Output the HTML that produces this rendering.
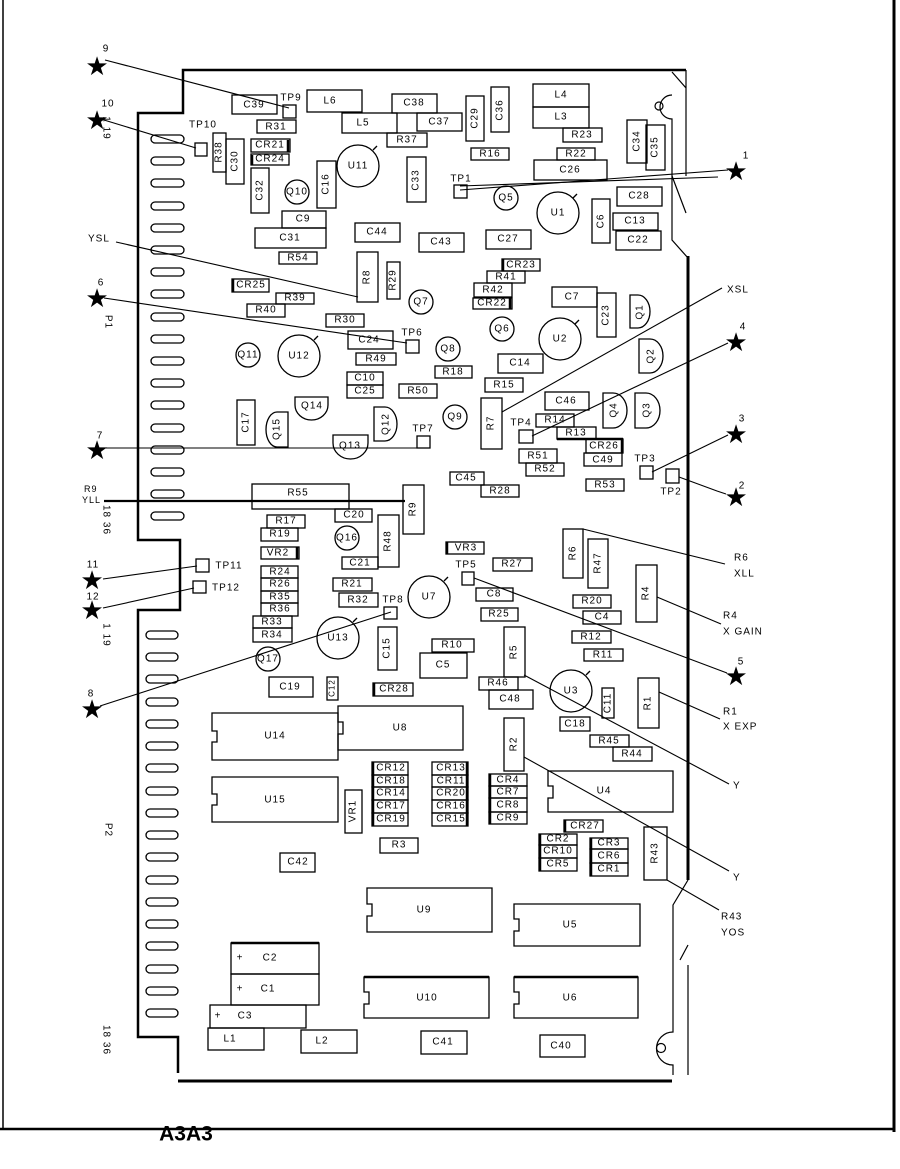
<!DOCTYPE html>
<html><head><meta charset="utf-8"><style>
html,body{margin:0;padding:0;background:#fff}
svg{display:block}
text{font-family:"Liberation Sans",sans-serif;font-size:10px;letter-spacing:1px;fill:#000;text-anchor:middle;dominant-baseline:central}
.b rect,.b circle,.b path{fill:none;stroke:#000;stroke-width:1.3}
.l line,.l polyline{stroke:#000;stroke-width:1.1;fill:none}
</style></head><body>
<svg width="900" height="1169" viewBox="0 0 900 1169" xmlns="http://www.w3.org/2000/svg">
<!-- frame -->
<line x1="3" y1="0" x2="3" y2="1130" stroke="#000" stroke-width="1.5"/>
<line x1="894" y1="0" x2="894" y2="1132" stroke="#000" stroke-width="3"/>
<line x1="0" y1="1129" x2="895" y2="1129" stroke="#000" stroke-width="2.5"/>
<text x="186" y="1134" style="font-size:21px;font-weight:bold;letter-spacing:0">A3A3</text>

<!-- board outline -->
<g fill="none" stroke="#000">
<polyline stroke-width="2.5" points="686,70 183,70 183,113 138,113 138,540 180,540 180,610 138,610 138,1037 178,1037 178,1073"/>
<line x1="178" y1="1081" x2="672" y2="1081" stroke-width="3"/>
<path stroke-width="1.2" d="M672,72 L686,88 L686,176 M686,70 L686,90"/>
<path stroke-width="1.2" d="M672,95 A12,12 0 0,0 672,119 L672,240 L688,258"/>
<line x1="688" y1="256" x2="688" y2="880" stroke-width="3"/>
<path stroke-width="1.2" d="M672,176 L686,213 M688,880 L673,905 L673,1032 A16,16 0 0,0 673,1065 L673,1075 M688,965 L688,1075 M680,960 L688,945"/>
<circle cx="659" cy="106" r="4" stroke-width="1.2"/>
<circle cx="661" cy="1048" r="4.5" stroke-width="1.2"/>
</g>

<!-- connector slots -->
<g fill="none" stroke="#000" stroke-width="1.3" id="slots">
<rect x="151" y="135" width="33" height="8" rx="4"/><rect x="151" y="157" width="33" height="8" rx="4"/><rect x="151" y="179" width="33" height="8" rx="4"/><rect x="151" y="202" width="33" height="8" rx="4"/><rect x="151" y="224" width="33" height="8" rx="4"/><rect x="151" y="246" width="33" height="8" rx="4"/><rect x="151" y="268" width="33" height="8" rx="4"/><rect x="151" y="290" width="33" height="8" rx="4"/><rect x="151" y="313" width="33" height="8" rx="4"/><rect x="151" y="335" width="33" height="8" rx="4"/><rect x="151" y="357" width="33" height="8" rx="4"/><rect x="151" y="379" width="33" height="8" rx="4"/><rect x="151" y="401" width="33" height="8" rx="4"/><rect x="151" y="424" width="33" height="8" rx="4"/><rect x="151" y="446" width="33" height="8" rx="4"/><rect x="151" y="468" width="33" height="8" rx="4"/><rect x="151" y="490" width="33" height="8" rx="4"/><rect x="151" y="512" width="33" height="8" rx="4"/>
<rect x="146" y="631" width="32" height="8" rx="4"/><rect x="146" y="653" width="32" height="8" rx="4"/><rect x="146" y="675" width="32" height="8" rx="4"/><rect x="146" y="698" width="32" height="8" rx="4"/><rect x="146" y="720" width="32" height="8" rx="4"/><rect x="146" y="742" width="32" height="8" rx="4"/><rect x="146" y="764" width="32" height="8" rx="4"/><rect x="146" y="787" width="32" height="8" rx="4"/><rect x="146" y="809" width="32" height="8" rx="4"/><rect x="146" y="831" width="32" height="8" rx="4"/><rect x="146" y="853" width="32" height="8" rx="4"/><rect x="146" y="876" width="32" height="8" rx="4"/><rect x="146" y="898" width="32" height="8" rx="4"/><rect x="146" y="920" width="32" height="8" rx="4"/><rect x="146" y="942" width="32" height="8" rx="4"/><rect x="146" y="965" width="32" height="8" rx="4"/><rect x="146" y="987" width="32" height="8" rx="4"/><rect x="146" y="1009" width="32" height="8" rx="4"/>
</g>

<!-- horizontal boxes -->
<g class="b">
<rect x="232" y="95" width="45" height="19"/><text x="254" y="105">C39</text>
<rect x="307" y="90" width="55" height="22"/><text x="330" y="101">L6</text>
<rect x="257" y="120" width="39" height="13"/><text x="276" y="127">R31</text>
<rect x="342" y="113" width="55" height="20"/><text x="363" y="123">L5</text>
<rect x="392" y="94" width="45" height="19"/><text x="414" y="103">C38</text>
<rect x="417" y="113" width="45" height="18"/><text x="439" y="122">C37</text>
<rect x="387" y="133" width="40" height="14"/><text x="407" y="140">R37</text>
<rect x="533" y="84" width="56" height="23"/><text x="561" y="95">L4</text>
<rect x="533" y="107" width="56" height="21"/><text x="561" y="117">L3</text>
<rect x="563" y="128" width="39" height="14"/><text x="582" y="135">R23</text>
<rect x="471" y="148" width="38" height="12"/><text x="490" y="154">R16</text>
<rect x="557" y="148" width="38" height="12"/><text x="576" y="154">R22</text>
<rect x="534" y="160" width="73" height="20"/><text x="570" y="170">C26</text>
<rect x="617" y="187" width="45" height="19"/><text x="639" y="196">C28</text>
<rect x="613" y="213" width="45" height="17"/><text x="635" y="221">C13</text>
<rect x="616" y="231" width="45" height="19"/><text x="638" y="240">C22</text>
<rect x="251" y="139" width="39" height="13"/><text x="270" y="145">CR21</text>
<rect x="251" y="154" width="38" height="11"/><text x="270" y="159">CR24</text>
<rect x="282" y="211" width="44" height="17"/><text x="303" y="219">C9</text>
<rect x="255" y="228" width="71" height="20"/><text x="290" y="238">C31</text>
<rect x="279" y="252" width="38" height="12"/><text x="298" y="258">R54</text>
<rect x="355" y="223" width="45" height="19"/><text x="377" y="232">C44</text>
<rect x="419" y="233" width="45" height="19"/><text x="441" y="242">C43</text>
<rect x="486" y="230" width="45" height="19"/><text x="508" y="239">C27</text>
<rect x="502" y="259" width="38" height="12"/><text x="521" y="265">CR23</text>
<rect x="487" y="271" width="38" height="12"/><text x="506" y="277">R41</text>
<rect x="474" y="283" width="38" height="14"/><text x="493" y="290">R42</text>
<rect x="473" y="298" width="39" height="11"/><text x="492" y="303">CR22</text>
<rect x="552" y="287" width="45" height="20"/><text x="572" y="297">C7</text>
<rect x="232" y="279" width="37" height="13"/><text x="251" y="285">CR25</text>
<rect x="276" y="293" width="38" height="11"/><text x="295" y="298">R39</text>
<rect x="247" y="304" width="38" height="13"/><text x="266" y="310">R40</text>
<rect x="326" y="314" width="38" height="13"/><text x="345" y="320">R30</text>
<rect x="348" y="331" width="45" height="18"/><text x="369" y="340">C24</text>
<rect x="356" y="353" width="40" height="12"/><text x="376" y="359">R49</text>
<rect x="498" y="354" width="45" height="19"/><text x="520" y="363">C14</text>
<rect x="435" y="366" width="37" height="12"/><text x="453" y="372">R18</text>
<rect x="347" y="372" width="36" height="13"/><text x="365" y="378">C10</text>
<rect x="347" y="385" width="36" height="13"/><text x="365" y="391">C25</text>
<rect x="399" y="384" width="38" height="14"/><text x="418" y="391">R50</text>
<rect x="485" y="378" width="38" height="14"/><text x="504" y="385">R15</text>
<rect x="545" y="392" width="44" height="18"/><text x="566" y="401">C46</text>
<rect x="536" y="414" width="38" height="13"/><text x="555" y="420">R14</text>
<rect x="557" y="427" width="39" height="12"/><text x="576" y="433">R13</text>
<rect x="586" y="439" width="37" height="14"/><text x="604" y="446">CR26</text>
<rect x="584" y="453" width="38" height="13"/><text x="603" y="460">C49</text>
<rect x="519" y="449" width="38" height="14"/><text x="538" y="456">R51</text>
<rect x="526" y="463" width="38" height="13"/><text x="545" y="469">R52</text>
<rect x="586" y="479" width="38" height="12"/><text x="605" y="485">R53</text>
<rect x="450" y="472" width="34" height="13"/><text x="466" y="478">C45</text>
<rect x="481" y="485" width="38" height="12"/><text x="500" y="491">R28</text>
<rect x="252" y="484" width="97" height="25" stroke-width="2"/><text x="298" y="493">R55</text>
<rect x="267" y="515" width="38" height="13"/><text x="286" y="521">R17</text>
<rect x="261" y="528" width="37" height="13"/><text x="280" y="534">R19</text>
<rect x="335" y="509" width="37" height="13"/><text x="354" y="515">C20</text>
<rect x="261" y="547" width="38" height="12"/><text x="278" y="553">VR2</text>
<rect x="342" y="557" width="36" height="12"/><text x="360" y="563">C21</text>
<rect x="261" y="566" width="37" height="12"/><text x="280" y="572">R24</text>
<rect x="261" y="578" width="37" height="13"/><text x="280" y="584">R26</text>
<rect x="261" y="591" width="37" height="12"/><text x="280" y="597">R35</text>
<rect x="261" y="603" width="37" height="13"/><text x="280" y="609">R36</text>
<rect x="253" y="616" width="39" height="12"/><text x="272" y="622">R33</text>
<rect x="253" y="628" width="39" height="14"/><text x="272" y="635">R34</text>
<rect x="333" y="578" width="39" height="13"/><text x="352" y="584">R21</text>
<rect x="339" y="593" width="39" height="14"/><text x="358" y="600">R32</text>
<rect x="446" y="542" width="38" height="12"/><text x="466" y="548">VR3</text>
<rect x="493" y="558" width="39" height="13"/><text x="512" y="564">R27</text>
<rect x="476" y="588" width="37" height="13"/><text x="494" y="594">C8</text>
<rect x="481" y="608" width="37" height="13"/><text x="499" y="614">R25</text>
<rect x="573" y="595" width="38" height="13"/><text x="592" y="601">R20</text>
<rect x="583" y="611" width="38" height="13"/><text x="602" y="617">C4</text>
<rect x="572" y="631" width="39" height="12"/><text x="591" y="637">R12</text>
<rect x="584" y="649" width="39" height="12"/><text x="603" y="655">R11</text>
<rect x="432" y="639" width="42" height="13"/><text x="452" y="645">R10</text>
<rect x="420" y="653" width="47" height="25"/><text x="443" y="665">C5</text>
<rect x="479" y="677" width="39" height="13"/><text x="498" y="683">R46</text>
<rect x="489" y="690" width="44" height="19"/><text x="510" y="699">C48</text>
<rect x="560" y="717" width="30" height="14"/><text x="575" y="724">C18</text>
<rect x="590" y="735" width="39" height="12"/><text x="609" y="741">R45</text>
<rect x="613" y="747" width="39" height="14"/><text x="632" y="754">R44</text>
<rect x="269" y="677" width="44" height="20"/><text x="290" y="687">C19</text>
<rect x="373" y="683" width="40" height="13"/><text x="394" y="689">CR28</text>
<rect x="489" y="774" width="38" height="12"/><text x="508" y="780">CR4</text>
<rect x="489" y="786" width="38" height="12"/><text x="508" y="792">CR7</text>
<rect x="489" y="798" width="38" height="14"/><text x="508" y="805">CR8</text>
<rect x="489" y="812" width="38" height="12"/><text x="508" y="818">CR9</text>
<rect x="564" y="820" width="39" height="12"/><text x="585" y="826">CR27</text>
<rect x="539" y="834" width="38" height="11"/><text x="558" y="839">CR2</text>
<rect x="539" y="845" width="38" height="13"/><text x="558" y="851">CR10</text>
<rect x="539" y="858" width="38" height="13"/><text x="558" y="864">CR5</text>
<rect x="590" y="838" width="38" height="11"/><text x="609" y="843">CR3</text>
<rect x="590" y="849" width="38" height="14"/><text x="609" y="856">CR6</text>
<rect x="590" y="863" width="38" height="13"/><text x="609" y="869">CR1</text>
<rect x="372" y="762" width="36" height="13"/><text x="391" y="768">CR12</text>
<rect x="372" y="775" width="36" height="12"/><text x="391" y="781">CR18</text>
<rect x="372" y="787" width="36" height="13"/><text x="391" y="793">CR14</text>
<rect x="372" y="800" width="36" height="13"/><text x="391" y="806">CR17</text>
<rect x="372" y="813" width="36" height="13"/><text x="391" y="819">CR19</text>
<rect x="432" y="762" width="36" height="13"/><text x="451" y="768">CR13</text>
<rect x="432" y="775" width="36" height="12"/><text x="451" y="781">CR11</text>
<rect x="432" y="787" width="36" height="13"/><text x="451" y="793">CR20</text>
<rect x="432" y="800" width="36" height="13"/><text x="451" y="806">CR16</text>
<rect x="432" y="813" width="36" height="13"/><text x="451" y="819">CR15</text>
<rect x="380" y="838" width="38" height="15"/><text x="399" y="845">R3</text>
<rect x="280" y="853" width="35" height="19"/><text x="298" y="862">C42</text>
<rect x="231" y="943" width="88" height="31"/><text x="240" y="958">+</text><text x="270" y="958">C2</text>
<rect x="231" y="974" width="88" height="31"/><text x="240" y="989">+</text><text x="268" y="989">C1</text>
<rect x="210" y="1005" width="96" height="23"/><text x="218" y="1016">+</text><text x="245" y="1016">C3</text>
<rect x="208" y="1028" width="56" height="22"/><text x="230" y="1039">L1</text>
<rect x="301" y="1030" width="56" height="23"/><text x="322" y="1041">L2</text>
<rect x="421" y="1031" width="46" height="23"/><text x="443" y="1042">C41</text>
<rect x="540" y="1035" width="45" height="22"/><text x="561" y="1046">C40</text>
</g>
<g stroke="#000" stroke-width="2.5">
<line x1="231" y1="943" x2="319" y2="943"/><line x1="288" y1="140" x2="288" y2="152"/><line x1="252" y1="155" x2="252" y2="165"/>
<line x1="233" y1="279" x2="233" y2="292"/><line x1="503" y1="259" x2="503" y2="271"/><line x1="510" y1="298" x2="510" y2="309"/>
<line x1="297" y1="547" x2="297" y2="559"/><line x1="447" y1="542" x2="447" y2="554"/><line x1="622" y1="439" x2="622" y2="453"/>
<line x1="374" y1="683" x2="374" y2="696"/><line x1="490" y1="774" x2="490" y2="824"/><line x1="565" y1="820" x2="565" y2="832"/>
<line x1="540" y1="834" x2="540" y2="871"/><line x1="591" y1="838" x2="591" y2="876"/><line x1="373" y1="762" x2="373" y2="826"/>
<line x1="467" y1="762" x2="467" y2="826"/><line x1="557" y1="439" x2="623" y2="439"/><line x1="364" y1="977" x2="489" y2="977"/><line x1="514" y1="977" x2="638" y2="977"/>
</g>

<!-- vertical boxes -->
<g class="b">
<rect x="466" y="96" width="18" height="45"/><text transform="translate(475,118) rotate(-90)">C29</text>
<rect x="491" y="87" width="18" height="45"/><text transform="translate(500,110) rotate(-90)">C36</text>
<rect x="627" y="120" width="20" height="43"/><text transform="translate(637,141) rotate(-90)">C34</text>
<rect x="646" y="125" width="19" height="45"/><text transform="translate(655,147) rotate(-90)">C35</text>
<rect x="407" y="157" width="19" height="45"/><text transform="translate(416,180) rotate(-90)">C33</text>
<rect x="592" y="199" width="18" height="44"/><text transform="translate(601,221) rotate(-90)">C6</text>
<rect x="357" y="252" width="21" height="50"/><text transform="translate(367,277) rotate(-90)">R8</text>
<rect x="387" y="262" width="13" height="37"/><text transform="translate(393,280) rotate(-90)">R29</text>
<rect x="597" y="293" width="19" height="44"/><text transform="translate(606,315) rotate(-90)">C23</text>
<rect x="317" y="161" width="19" height="47"/><text transform="translate(326,184) rotate(-90)">C16</text>
<rect x="251" y="168" width="18" height="45"/><text transform="translate(260,190) rotate(-90)">C32</text>
<rect x="213" y="133" width="13" height="39"/><text transform="translate(219,152) rotate(-90)">R38</text>
<rect x="226" y="139" width="18" height="45"/><text transform="translate(235,161) rotate(-90)">C30</text>
<rect x="237" y="400" width="18" height="45"/><text transform="translate(246,422) rotate(-90)">C17</text>
<rect x="481" y="398" width="21" height="51"/><text transform="translate(491,423) rotate(-90)">R7</text>
<rect x="403" y="485" width="21" height="49"/><text transform="translate(413,509) rotate(-90)">R9</text>
<rect x="378" y="515" width="21" height="52"/><text transform="translate(388,541) rotate(-90)">R48</text>
<rect x="563" y="529" width="20" height="49"/><text transform="translate(573,553) rotate(-90)">R6</text>
<rect x="588" y="539" width="20" height="49"/><text transform="translate(598,563) rotate(-90)">R47</text>
<rect x="636" y="565" width="21" height="57"/><text transform="translate(646,593) rotate(-90)">R4</text>
<rect x="504" y="627" width="21" height="50"/><text transform="translate(514,652) rotate(-90)">R5</text>
<rect x="602" y="688" width="12" height="30"/><text transform="translate(608,703) rotate(-90)">C11</text>
<rect x="638" y="678" width="21" height="50"/><text transform="translate(648,703) rotate(-90)">R1</text>
<rect x="504" y="718" width="20" height="53"/><text transform="translate(514,744) rotate(-90)">R2</text>
<rect x="644" y="827" width="23" height="53"/><text transform="translate(655,853) rotate(-90)">R43</text>
<rect x="378" y="627" width="19" height="43"/><text transform="translate(387,648) rotate(-90)">C15</text>
<rect x="327" y="677" width="11" height="23"/><text transform="translate(332,688) rotate(-90)" style="font-size:8px">C12</text>
<rect x="345" y="790" width="17" height="43"/><text transform="translate(353,811) rotate(-90)">VR1</text>
</g>

<!-- ICs -->
<g class="b">
<path d="M212,713 H338 V760 H212 V742 H217 V731 H212 Z"/><text x="275" y="736">U14</text>
<path d="M338,706 H463 V750 H338 V734 H343 V722 H338 Z"/><text x="400" y="728">U8</text>
<path d="M212,777 H338 V822 H212 V805 H217 V794 H212 Z"/><text x="275" y="800">U15</text>
<path d="M548,771 H673 V812 H548 V798 H553 V786 H548 Z"/><text x="604" y="791">U4</text>
<path d="M367,888 H492 V932 H367 V916 H372 V904 H367 Z"/><text x="424" y="910">U9</text>
<path d="M514,904 H640 V946 H514 V931 H519 V919 H514 Z"/><text x="570" y="925">U5</text>
<path d="M364,977 H489 V1018 H364 V1004 H369 V992 H364 Z"/><text x="427" y="998">U10</text>
<path d="M514,977 H638 V1018 H514 V1004 H519 V992 H514 Z"/><text x="570" y="998">U6</text>
</g>

<!-- round parts -->
<g class="b">
<circle cx="358" cy="166" r="21"/><text x="358" y="166">U11</text>
<circle cx="558" cy="213" r="21"/><text x="558" y="213">U1</text>
<circle cx="560" cy="339" r="21"/><text x="560" y="339">U2</text>
<circle cx="299" cy="356" r="21"/><text x="299" y="356">U12</text>
<circle cx="429" cy="597" r="21"/><text x="429" y="597">U7</text>
<circle cx="338" cy="638" r="21"/><text x="338" y="638">U13</text>
<circle cx="571" cy="691" r="21"/><text x="571" y="691">U3</text>
<circle cx="506" cy="198" r="12"/><text x="506" y="198">Q5</text>
<circle cx="297" cy="192" r="12"/><text x="297" y="192">Q10</text>
<circle cx="421" cy="302" r="12"/><text x="421" y="302">Q7</text>
<circle cx="502" cy="329" r="12"/><text x="502" y="329">Q6</text>
<circle cx="448" cy="349" r="12"/><text x="448" y="349">Q8</text>
<circle cx="248" cy="355" r="12"/><text x="248" y="355">Q11</text>
<circle cx="455" cy="417" r="12"/><text x="455" y="417">Q9</text>
<circle cx="347" cy="538" r="12"/><text x="347" y="538">Q16</text>
<circle cx="268" cy="659" r="12"/><text x="268" y="659">Q17</text>
<path d="M630,295 H638 A12,16.5 0 0,1 638,328 H630 Z"/><text transform="translate(640,312) rotate(-90)">Q1</text>
<path d="M639,339 H650 A13,17 0 0,1 650,373 H639 Z"/><text transform="translate(651,356) rotate(-90)">Q2</text>
<path d="M603,393 H613 A14,17.5 0 0,1 613,428 H603 Z"/><text transform="translate(614,410) rotate(-90)">Q4</text>
<path d="M635,393 H646 A14,17.5 0 0,1 646,428 H635 Z"/><text transform="translate(647,410) rotate(-90)">Q3</text>
<path d="M374,407 H385 A12,17 0 0,1 385,441 H374 Z"/><text transform="translate(386,424) rotate(-90)">Q12</text>
<path d="M295,397 H328 V405 A16.5,15 0 0,1 295,405 Z"/><text x="312" y="406">Q14</text>
<path d="M288,412 V447 H277 A11,17.5 0 0,1 277,412 Z"/><text transform="translate(277,429) rotate(-90)">Q15</text>
<path d="M333,435 H368 V443 A17.5,16 0 0,1 333,443 Z"/><text x="350" y="446">Q13</text>
</g>
<g stroke="#000" stroke-width="1.3">
<line x1="373" y1="150" x2="377" y2="146"/><line x1="573" y1="198" x2="577" y2="194"/><line x1="575" y1="324" x2="579" y2="320"/>
<line x1="314" y1="340" x2="318" y2="336"/><line x1="444" y1="581" x2="448" y2="577"/><line x1="353" y1="622" x2="357" y2="618"/><line x1="586" y1="675" x2="590" y2="671"/>
</g>

<!-- test points -->
<g class="b">
<rect x="283" y="105" width="13" height="13"/><rect x="195" y="143" width="12" height="13"/>
<rect x="454" y="185" width="13" height="13"/><rect x="406" y="340" width="13" height="13"/>
<rect x="417" y="436" width="13" height="12"/><rect x="519" y="430" width="14" height="13"/>
<rect x="640" y="466" width="13" height="13"/><rect x="666" y="469" width="13" height="14"/>
<rect x="196" y="559" width="13" height="13"/><rect x="193" y="581" width="13" height="12"/>
<rect x="384" y="607" width="13" height="12"/><rect x="462" y="572" width="12" height="13"/>
</g>
<text x="291" y="98">TP9</text><text x="203" y="125">TP10</text><text x="461" y="179">TP1</text>
<text x="412" y="333">TP6</text><text x="423" y="429">TP7</text><text x="521" y="423">TP4</text>
<text x="645" y="459">TP3</text><text x="671" y="492">TP2</text><text x="229" y="566">TP11</text>
<text x="226" y="588">TP12</text><text x="393" y="600">TP8</text><text x="466" y="565">TP5</text>

<!-- leader lines -->
<g class="l">
<line x1="105" y1="60" x2="289" y2="108"/>
<line x1="104" y1="120" x2="196" y2="148"/>
<line x1="460" y1="190" x2="728" y2="170"/>
<line x1="460" y1="186" x2="718" y2="177"/>
<line x1="104" y1="298" x2="407" y2="343"/>
<line x1="116" y1="242" x2="358" y2="297"/>
<line x1="104" y1="448" x2="418" y2="448"/>
<line x1="502" y1="412" x2="722" y2="288"/>
<line x1="532" y1="436" x2="728" y2="343"/>
<line x1="652" y1="472" x2="728" y2="435"/>
<polyline points="679,477 717,491 726,494"/>
<line x1="197" y1="566" x2="103" y2="579"/>
<line x1="194" y1="588" x2="103" y2="608"/>
<line x1="391" y1="612" x2="100" y2="706"/>
<line x1="583" y1="529" x2="725" y2="564"/>
<line x1="657" y1="597" x2="721" y2="624"/>
<line x1="474" y1="578" x2="727" y2="673"/>
<line x1="659" y1="692" x2="720" y2="719"/>
<line x1="524" y1="675" x2="729" y2="784"/>
<line x1="524" y1="757" x2="729" y2="871"/>
<line x1="667" y1="880" x2="719" y2="910"/>
</g>
<line x1="104" y1="501" x2="405" y2="501" stroke="#000" stroke-width="2.2"/>

<!-- stars -->
<g fill="#000" font-size="24" style="font-family:'DejaVu Sans',sans-serif">
<text x="97" y="66" style="font-size:26px;letter-spacing:0">★</text>
<text x="97" y="120" style="font-size:26px;letter-spacing:0">★</text>
<text x="736" y="171" style="font-size:26px;letter-spacing:0">★</text>
<text x="97" y="298" style="font-size:26px;letter-spacing:0">★</text>
<text x="736" y="342" style="font-size:26px;letter-spacing:0">★</text>
<text x="736" y="434" style="font-size:26px;letter-spacing:0">★</text>
<text x="97" y="450" style="font-size:26px;letter-spacing:0">★</text>
<text x="736" y="497" style="font-size:26px;letter-spacing:0">★</text>
<text x="92" y="580" style="font-size:26px;letter-spacing:0">★</text>
<text x="92" y="610" style="font-size:26px;letter-spacing:0">★</text>
<text x="736" y="676" style="font-size:26px;letter-spacing:0">★</text>
<text x="92" y="709" style="font-size:26px;letter-spacing:0">★</text>
</g>
<text x="106" y="49">9</text><text x="108" y="104">10</text><text x="746" y="156">1</text>
<text x="101" y="283">6</text><text x="743" y="327">4</text><text x="742" y="419">3</text>
<text x="100" y="436">7</text><text x="742" y="486">2</text><text x="93" y="565">11</text>
<text x="93" y="597">12</text><text x="741" y="662">5</text><text x="91" y="694">8</text>

<!-- side labels -->
<g style="text-anchor:start">
<text x="88" y="239" style="text-anchor:start">YSL</text>
<text x="727" y="290" style="text-anchor:start">XSL</text>
<text x="84" y="489" style="text-anchor:start;font-size:9px">R9</text>
<text x="82" y="500" style="text-anchor:start;font-size:9px">YLL</text>
<text x="734" y="558" style="text-anchor:start">R6</text><text x="734" y="574" style="text-anchor:start">XLL</text>
<text x="723" y="616" style="text-anchor:start">R4</text><text x="723" y="632" style="text-anchor:start">X GAIN</text>
<text x="723" y="712" style="text-anchor:start">R1</text><text x="723" y="727" style="text-anchor:start">X EXP</text>
<text x="733" y="786" style="text-anchor:start">Y</text>
<text x="733" y="878" style="text-anchor:start">Y</text>
<text x="721" y="917" style="text-anchor:start">R43</text><text x="721" y="933" style="text-anchor:start">YOS</text>
</g>
<text transform="translate(106,128) rotate(90)">1 19</text>
<text transform="translate(108,322) rotate(90)">P1</text>
<text transform="translate(106,520) rotate(90)">18 36</text>
<text transform="translate(106,635) rotate(90)">1 19</text>
<text transform="translate(108,830) rotate(90)">P2</text>
<text transform="translate(106,1040) rotate(90)">18 36</text>
</svg>
</body></html>
